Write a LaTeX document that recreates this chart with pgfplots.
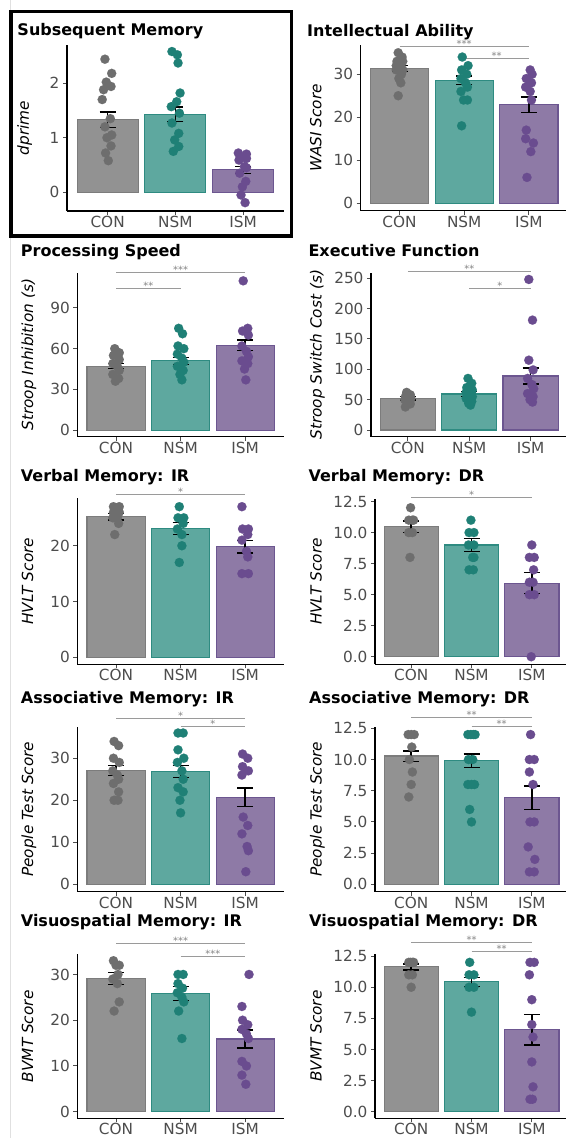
\documentclass[border=0pt]{standalone}
\usepackage{pgfplots}
\pgfplotsset{compat=1.18}
\usepackage{fontspec}
\setmainfont{DejaVu Sans}

\definecolor{conbar}{HTML}{929292}
\definecolor{conedge}{HTML}{7C7C7C}
\definecolor{conpt}{HTML}{6E6E6E}
\definecolor{nsmbar}{HTML}{5EA89F}
\definecolor{nsmedge}{HTML}{2E8B81}
\definecolor{nsmpt}{HTML}{1F8076}
\definecolor{ismbar}{HTML}{8E7AA6}
\definecolor{ismedge}{HTML}{6C5690}
\definecolor{ismpt}{HTML}{6A4C8F}
\definecolor{tickgray}{HTML}{4D4D4D}
\definecolor{siggray}{HTML}{9A9A9A}
\definecolor{startext}{HTML}{858585}

\newcommand\tickfont{\fontsize{15.3bp}{18bp}\selectfont}
\newcommand\titlefont{\fontsize{16bp}{19bp}\selectfont\bfseries}

\tikzset{sigt/.style={font=\fontsize{10bp}{11bp}\selectfont, text=startext, anchor=south, inner sep=0pt, yshift=-1.5bp}}

\pgfplotsset{
  panel/.style={
    scale only axis,
    anchor=south west,
    clip=false,
    axis x line*=bottom,
    axis y line*=left,
    axis line style={-, line width=1.3bp, black},
    xmin=0.4, xmax=3.6,
    xtick={1,2,3},
    xticklabels={CON,NSM,ISM},
    tick align=outside,
    major tick length=4bp,
    tick style={line width=1bp, tickgray},
    tick label style={font=\tickfont, text=tickgray},
    xticklabel style={inner sep=1bp},
    ylabel style={font=\tickfont\itshape, text=black, anchor=base},
    /pgf/number format/assume math mode=true,
  },
  conb/.style={ybar, bar shift=0pt, bar width=0.9, fill=conbar, draw=conedge, line width=1.1bp},
  nsmb/.style={ybar, bar shift=0pt, bar width=0.9, fill=nsmbar, draw=nsmedge, line width=1.1bp},
  ismb/.style={ybar, bar shift=0pt, bar width=0.9, fill=ismbar, draw=ismedge, line width=1.1bp},
  conp/.style={only marks, mark=*, mark size=4.6bp, mark options={fill=conpt, draw=conpt, line width=0.1bp}},
  nsmp/.style={only marks, mark=*, mark size=4.6bp, mark options={fill=nsmpt, draw=nsmpt, line width=0.1bp}},
  ismp/.style={only marks, mark=*, mark size=4.6bp, mark options={fill=ismpt, draw=ismpt, line width=0.1bp}},
  err/.style={draw=none, mark=none, error bars/.cd, y dir=both, y explicit,
    error bar style={line width=1.4bp, black},
    error mark options={rotate=90, mark size=8bp, line width=1.4bp, black}},
  sig/.style={siggray, line width=0.8bp, mark=none},
}

\begin{document}
\begin{tikzpicture}
\useasboundingbox (0,0) rectangle (566bp,-1138bp);
\fill[white] (0,0) rectangle (566bp,-1138bp);
\draw[black!12, line width=1bp] (10.5bp,0) -- (10.5bp,-1138bp);

% ---------- Panel 1: Subsequent Memory ----------
\begin{axis}[panel, at={(67bp,-211bp)}, width=216.7bp, height=166bp,
  ymin=-0.343, ymax=2.70, ytick={0,1,2}, ylabel={dprime},
  ylabel style={at={(axis description cs:-0.1754,0.5)}}]
\addplot[conb] coordinates {(1,1.33)};
\addplot[nsmb] coordinates {(2,1.43)};
\addplot[ismb] coordinates {(3,0.41)};
\addplot[conp] coordinates {(0.96,2.44) (1.06,2.18) (0.98,2.02) (1.05,1.94) (0.94,1.88) (0.92,1.70) (1.04,1.35) (0.96,1.20) (1.06,1.05) (0.99,1.00) (1.05,0.85) (0.97,0.72) (1.01,0.58)};
\addplot[nsmp] coordinates {(1.95,2.58) (2.03,2.52) (2.04,2.37) (2.07,1.82) (2.02,1.66) (1.94,1.57) (2.06,1.45) (1.95,1.27) (2.05,1.08) (1.99,0.96) (2.05,0.84) (1.97,0.75)};
\addplot[ismp] coordinates {(2.93,0.72) (3.05,0.70) (2.96,0.65) (3.05,0.62) (2.94,0.59) (3.02,0.47) (3.05,0.45) (2.95,0.35) (3.04,0.20) (2.99,0.10) (2.97,-0.05) (3.03,-0.19)};
\addplot[err] coordinates {(1,1.33) +- (0,0.14) (2,1.43) +- (0,0.135) (3,0.41) +- (0,0.065)};
\end{axis}

% ---------- Panel 2: Intellectual Ability ----------
\begin{axis}[panel, at={(360.7bp,-210.5bp)}, width=207bp, height=165.5bp,
  ymin=-1.7, ymax=36.8, ytick={0,10,20,30}, ylabel={WASI Score},
  ylabel style={at={(axis description cs:-0.1894,0.5)}}]
\addplot[conb] coordinates {(1,31.3)};
\addplot[nsmb] coordinates {(2,28.6)};
\addplot[ismb] coordinates {(3,22.9)};
\addplot[conp] coordinates {(0.98,35) (1.04,34) (0.96,33) (1.05,33) (0.95,32) (1.02,32) (1.05,31) (0.95,31) (1.03,30) (0.99,29) (1.02,28) (0.98,25)};
\addplot[nsmp] coordinates {(1.97,34) (2.06,32) (1.96,31) (2.04,30) (1.95,29) (2.02,28) (2.05,27) (1.95,26) (2.05,24) (1.99,24) (1.96,18)};
\addplot[ismp] coordinates {(3.02,31) (3.05,30) (2.96,29) (3.04,28) (2.95,27) (3.02,26) (3.04,24) (2.96,17) (2.95,15) (3.07,14) (3.03,12) (2.97,6)};
\addplot[err] coordinates {(1,31.3) +- (0,0.7) (2,28.6) +- (0,1.0) (3,22.9) +- (0,1.8)};
\addplot[sig] coordinates {(1,36.5) (3,36.5)} node[sigt, pos=0.5] {***};
\addplot[sig] coordinates {(2,33.6) (3,33.6)} node[sigt, pos=0.5] {**};
\end{axis}

% ---------- Panel 3: Processing Speed ----------
\begin{axis}[panel, at={(77.3bp,-436.7bp)}, width=206.6bp, height=164bp,
  ymin=-4.9, ymax=116, ytick={0,30,60,90}, ylabel={Stroop Inhibition (s)},
  ylabel style={at={(axis description cs:-0.2144,0.5)}}]
\addplot[conb] coordinates {(1,47.1)};
\addplot[nsmb] coordinates {(2,51.0)};
\addplot[ismb] coordinates {(3,62.5)};
\addplot[conp] coordinates {(0.98,60) (1.05,57) (0.96,55) (1.05,52) (0.95,49) (1.02,47) (1.05,44) (0.95,41) (1.04,38) (0.99,36)};
\addplot[nsmp] coordinates {(1.97,75) (2.03,71) (1.96,62) (2.05,60) (1.95,56) (2.02,53) (2.05,50) (1.95,47) (2.04,44) (1.99,41) (2.02,37)};
\addplot[ismp] coordinates {(2.97,110) (3.04,75) (2.96,73) (3.05,70) (2.95,62) (3.02,58) (3.05,54) (2.95,51) (3.04,49) (2.99,45) (3.01,37)};
\addplot[err] coordinates {(1,47.1) +- (0,1.9) (2,51.0) +- (0,2.5) (3,62.5) +- (0,3.9)};
\addplot[sig] coordinates {(1,116) (3,116)} node[sigt, pos=0.5] {***};
\addplot[sig] coordinates {(1,104.3) (2,104.3)} node[sigt, pos=0.5] {**};
\end{axis}

% ---------- Panel 4: Executive Function ----------
\begin{axis}[panel, at={(371bp,-436.7bp)}, width=196.5bp, height=164bp,
  ymin=-11, ymax=259.1, ytick={0,50,100,150,200,250}, ylabel={Stroop Switch Cost (s)},
  ylabel style={at={(axis description cs:-0.2519,0.5)}}]
\addplot[conb] coordinates {(1,52.2)};
\addplot[nsmb] coordinates {(2,59.3)};
\addplot[ismb] coordinates {(3,89.0)};
\addplot[conp] coordinates {(0.98,62) (1.04,58) (0.96,55) (1.05,52) (0.95,50) (1.02,47) (1.04,43) (0.96,38)};
\addplot[nsmp] coordinates {(1.98,85) (2.04,77) (1.96,70) (2.05,66) (1.95,62) (2.02,58) (2.05,55) (1.95,52) (2.04,47) (1.99,44) (2.02,41)};
\addplot[ismp] coordinates {(2.97,248) (3.03,181) (2.97,115) (3.04,99) (2.95,85) (3.02,75) (3.05,68) (2.95,60) (3.04,55) (2.99,50) (3.03,46)};
\addplot[err] coordinates {(1,52.2) +- (0,2.7) (2,59.3) +- (0,3.8) (3,89.0) +- (0,13)};
\addplot[sig] coordinates {(1,260.8) (3,260.8)} node[sigt, pos=0.5] {**};
\addplot[sig] coordinates {(2,233.4) (3,233.4)} node[sigt, pos=0.5] {*};
\end{axis}

% ---------- Panel 5: Verbal Memory IR ----------
\begin{axis}[panel, at={(77.3bp,-664.3bp)}, width=206.6bp, height=166bp,
  ymin=-1.25, ymax=28.5, ytick={0,10,20}, ylabel={HVLT Score},
  ylabel style={at={(axis description cs:-0.2144,0.5)}}]
\addplot[conb] coordinates {(1,25.2)};
\addplot[nsmb] coordinates {(2,23.1)};
\addplot[ismb] coordinates {(3,19.8)};
\addplot[conp] coordinates {(0.96,27) (1.05,27) (0.96,26) (1.05,26) (0.95,25) (1.02,25) (1.04,24) (0.98,22)};
\addplot[nsmp] coordinates {(1.98,27) (2.05,25) (1.96,25) (2.04,24) (1.95,23) (2.02,22) (2.02,20) (1.98,17)};
\addplot[ismp] coordinates {(2.95,27) (3.05,23) (2.96,23) (3.04,22) (2.95,21) (3.02,19) (3.04,18) (2.95,15) (3.05,15)};
\addplot[err] coordinates {(1,25.2) +- (0,0.6) (2,23.1) +- (0,1.1) (3,19.8) +- (0,1.1)};
\addplot[sig] coordinates {(1,29.2) (3,29.2)} node[sigt, pos=0.5] {*};
\end{axis}

% ---------- Panel 6: Verbal Memory DR ----------
\begin{axis}[panel, at={(375bp,-664.3bp)}, width=193bp, height=165.5bp,
  ymin=-0.61, ymax=12.72, ytick={0,2.5,5,7.5,10,12.5},
  yticklabels={0.0,2.5,5.0,7.5,10.0,12.5}, ylabel={HVLT Score},
  ylabel style={at={(axis description cs:-0.2772,0.5)}}]
\addplot[conb] coordinates {(1,10.48)};
\addplot[nsmb] coordinates {(2,9.0)};
\addplot[ismb] coordinates {(3,5.92)};
\addplot[conp] coordinates {(0.99,12) (1.04,11) (0.96,11) (1.02,11) (0.96,10) (1.02,10) (0.98,8)};
\addplot[nsmp] coordinates {(1.99,11) (2.04,10) (1.96,10) (2.04,9) (1.95,9) (2.02,8) (2.04,8) (1.96,7) (2.03,7)};
\addplot[ismp] coordinates {(3.00,9) (3.04,8) (2.96,8) (3.03,7) (2.96,6) (3.02,6) (3.04,5) (2.96,5) (2.99,0)};
\addplot[err] coordinates {(1,10.48) +- (0,0.45) (2,9.0) +- (0,0.5) (3,5.92) +- (0,0.85)};
\addplot[sig] coordinates {(1,12.85) (3,12.85)} node[sigt, pos=0.5] {*};
\end{axis}

% ---------- Panel 7: Associative Memory IR ----------
\begin{axis}[panel, at={(77.3bp,-891.7bp)}, width=206.6bp, height=165bp,
  ymin=-1.76, ymax=37.5, ytick={0,10,20,30}, ylabel={People Test Score},
  ylabel style={at={(axis description cs:-0.2144,0.5)}}]
\addplot[conb] coordinates {(1,27.05)};
\addplot[nsmb] coordinates {(2,26.8)};
\addplot[ismb] coordinates {(3,20.7)};
\addplot[conp] coordinates {(0.97,34) (1.04,33) (0.96,30) (1.05,29) (0.95,27) (1.02,26) (1.04,25) (0.96,24) (1.04,22) (0.97,20) (1.03,20)};
\addplot[nsmp] coordinates {(1.96,36) (2.04,36) (1.96,32) (2.05,30) (1.95,29) (2.02,27) (2.04,25) (1.96,23) (2.04,22) (1.99,20) (2.00,17)};
\addplot[ismp] coordinates {(2.96,31) (3.04,30) (2.96,28) (3.05,27) (2.95,26) (2.97,16) (3.04,14) (2.95,12) (3.03,9) (3.05,8) (3.01,3)};
\addplot[err] coordinates {(1,27.05) +- (0,1.15) (2,26.8) +- (0,1.4) (3,20.7) +- (0,2.2)};
\addplot[sig] coordinates {(1,39.5) (3,39.5)} node[sigt, pos=0.5] {*};
\addplot[sig] coordinates {(2,37.5) (3,37.5)} node[sigt, pos=0.5] {*};
\end{axis}

% ---------- Panel 8: Associative Memory DR ----------
\begin{axis}[panel, at={(375bp,-891.7bp)}, width=193bp, height=165bp,
  ymin=-0.59, ymax=12.63, ytick={0,2.5,5,7.5,10,12.5},
  yticklabels={0.0,2.5,5.0,7.5,10.0,12.5}, ylabel={People Test Score},
  ylabel style={at={(axis description cs:-0.2772,0.5)}}]
\addplot[conb] coordinates {(1,10.28)};
\addplot[nsmb] coordinates {(2,9.9)};
\addplot[ismb] coordinates {(3,6.94)};
\addplot[conp] coordinates {(0.95,12) (1.05,12) (1.00,12) (1.01,11) (0.97,10) (1.02,9) (1.00,8) (0.96,7)};
\addplot[nsmp] coordinates {(1.94,12) (2.06,12) (1.99,12) (2.03,12) (1.95,10) (2.02,10) (2.05,8) (1.94,8) (2.00,8) (1.97,6) (2.00,5)};
\addplot[ismp] coordinates {(2.98,12) (3.04,10) (2.96,10) (2.96,9) (3.02,8) (2.97,5) (3.04,5) (2.94,3) (3.05,2) (2.96,1) (3.04,1)};
\addplot[err] coordinates {(1,10.28) +- (0,0.42) (2,9.9) +- (0,0.53) (3,6.94) +- (0,0.94)};
\addplot[sig] coordinates {(1,13.36) (3,13.36)} node[sigt, pos=0.5] {**};
\addplot[sig] coordinates {(2,12.63) (3,12.63)} node[sigt, pos=0.5] {**};
\end{axis}

% ---------- Panel 9: Visuospatial Memory IR ----------
\begin{axis}[panel, at={(77.3bp,-1118.3bp)}, width=206.6bp, height=164bp,
  ymin=-1.44, ymax=34.4, ytick={0,10,20,30}, ylabel={BVMT Score},
  ylabel style={at={(axis description cs:-0.2144,0.5)}}]
\addplot[conb] coordinates {(1,29.1)};
\addplot[nsmb] coordinates {(2,25.85)};
\addplot[ismb] coordinates {(3,15.9)};
\addplot[conp] coordinates {(0.96,33) (1.05,32) (1.00,32) (1.03,30) (0.95,29) (1.02,28) (1.05,24) (0.97,22)};
\addplot[nsmp] coordinates {(1.96,30) (2.04,30) (1.96,28) (2.03,27) (1.95,26) (2.02,25) (2.05,24) (1.97,22) (2.02,16)};
\addplot[ismp] coordinates {(3.06,30) (2.95,23) (2.96,20) (3.04,19) (2.95,18) (3.02,17) (3.05,16) (2.95,11) (3.02,10) (2.95,8) (3.01,6)};
\addplot[err] coordinates {(1,29.1) +- (0,1.3) (2,25.85) +- (0,1.5) (3,15.9) +- (0,2.0)};
\addplot[sig] coordinates {(1,36.8) (3,36.8)} node[sigt, pos=0.5] {***};
\addplot[sig] coordinates {(2,34.0) (3,34.0)} node[sigt, pos=0.5] {***};
\end{axis}

% ---------- Panel 10: Visuospatial Memory DR ----------
\begin{axis}[panel, at={(375bp,-1118.3bp)}, width=193bp, height=164.3bp,
  ymin=-0.53, ymax=12.67, ytick={0,2.5,5,7.5,10,12.5},
  yticklabels={0.0,2.5,5.0,7.5,10.0,12.5}, ylabel={BVMT Score},
  ylabel style={at={(axis description cs:-0.2772,0.5)}}]
\addplot[conb] coordinates {(1,11.64)};
\addplot[nsmb] coordinates {(2,10.44)};
\addplot[ismb] coordinates {(3,6.58)};
\addplot[conp] coordinates {(0.96,12) (1.04,12) (0.99,12) (1.02,12) (0.96,11) (1.02,11) (1.00,10)};
\addplot[nsmp] coordinates {(1.97,12) (2.04,11) (1.96,11) (2.04,10) (1.96,10) (2.00,8)};
\addplot[ismp] coordinates {(2.97,12) (3.04,12) (2.96,11) (3.00,9) (3.00,7) (3.02,6) (3.00,4) (3.02,2) (3.01,1) (2.97,1)};
\addplot[err] coordinates {(1,11.64) +- (0,0.24) (2,10.44) +- (0,0.36) (3,6.58) +- (0,1.23)};
\addplot[sig] coordinates {(1,13.57) (3,13.57)} node[sigt, pos=0.5] {**};
\addplot[sig] coordinates {(2,12.9) (3,12.9)} node[sigt, pos=0.5] {**};
\end{axis}

% ---------- Titles ----------
\begin{scope}[every node/.style={anchor=base west, inner sep=0pt, font=\titlefont}]
\node at (17.3bp,-35bp) {Subsequent Memory};
\node at (307bp,-36bp) {Intellectual Ability};
\node at (20.7bp,-256bp) {Processing Speed};
\node at (308.3bp,-256.5bp) {Executive Function};
\node at (20.7bp,-481bp) {Verbal Memory: IR};
\node at (308.3bp,-481.5bp) {Verbal Memory: DR};
\node at (20.7bp,-703.3bp) {Associative Memory: IR};
\node at (309bp,-703.3bp) {Associative Memory: DR};
\node at (20.7bp,-926.7bp) {Visuospatial Memory: IR};
\node at (309bp,-926.7bp) {Visuospatial Memory: DR};
\end{scope}

\draw[line width=3.3bp, black] (11bp,-11.7bp) rectangle (291.7bp,-236bp);
\end{tikzpicture}
\end{document}
